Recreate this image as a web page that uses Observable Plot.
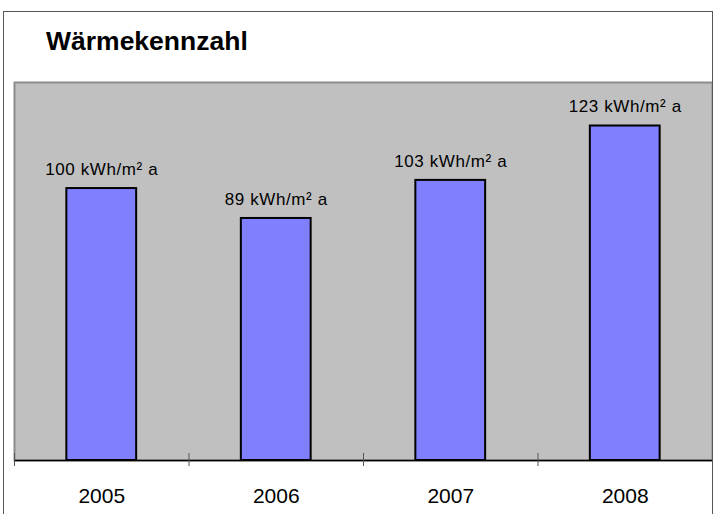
<!DOCTYPE html>
<html>
<head>
<meta charset="utf-8">
<script src="https://cdn.jsdelivr.net/npm/d3@7"></script>
<script src="https://cdn.jsdelivr.net/npm/@observablehq/plot@0.6"></script>
<style>
  html, body { margin: 0; padding: 0; background: #fff; overflow: hidden; }
  #wrap { position: relative; width: 713px; height: 514px; font-family: "Liberation Sans", Arial, sans-serif; }
  #border { position: absolute; left: 3px; top: 11px; width: 710px; height: 520px; border: 1.5px solid #555; box-sizing: border-box; }
  #title { position: absolute; left: 46px; top: 25px; font-size: 26.5px; font-weight: bold; color: #000; line-height: 32px; }
  #chart { position: absolute; left: 0; top: 0; }
  #chart .lbl, #chart .lbl text { letter-spacing: 0.6px; }
</style>
</head>
<body>
<div id="wrap">
  <div id="chart"></div>
  <div id="border"></div>
  <div id="title">Wärmekennzahl</div>
</div>
<script>
const years = ["2005", "2006", "2007", "2008"];
const values = [100, 89, 103, 123];
const unit = "kWh/m² a";

const data = years.map((y, i) => ({ year: y, i, value: values[i] }));

const chart = Plot.plot({
  width: 713,
  height: 514,
  marginLeft: 14,
  marginRight: 1,
  marginTop: 82,
  marginBottom: 54,
  style: { fontFamily: "'Liberation Sans', Arial, sans-serif", background: "transparent", overflow: "visible" },
  x: { domain: [0, years.length], axis: null },
  y: { domain: [0, 139], axis: null },
  marks: [
    Plot.frame({ fill: "#c0c0c0", stroke: "#8c8c8c", strokeWidth: 2 }),
    Plot.rectY(data, {
      x1: d => d.i + 0.3, x2: d => d.i + 0.7, y: "value",
      fill: "#8080ff", stroke: "#000", strokeWidth: 2
    }),
    Plot.text(data, {
      x: d => d.i + 0.5, y: "value", text: d => `${d.value} ${unit}`,
      dy: -19, fontSize: 17, fill: "#000", lineAnchor: "middle", className: "lbl"
    }),
    Plot.ruleY([0], { stroke: "#000", strokeWidth: 1.5 }),
    Plot.ruleX(d3.range(years.length + 1), { y1: 0, y2: 0, insetTop: -7, insetBottom: -6, stroke: "#555" }),
    Plot.text(data, {
      x: d => d.i + 0.5, y: 0, text: "year",
      dy: 36, fontSize: 21, fill: "#000", lineAnchor: "middle"
    })
  ]
});
document.getElementById("chart").appendChild(chart);
</script>
</body>
</html>
